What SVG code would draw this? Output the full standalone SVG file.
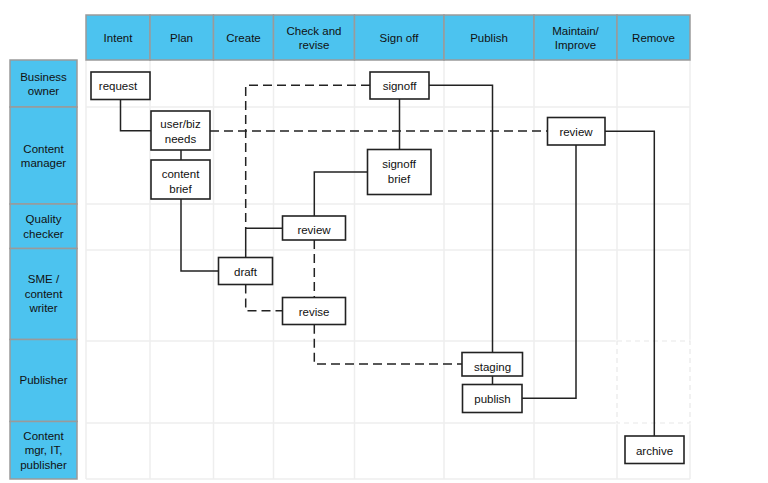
<svg xmlns="http://www.w3.org/2000/svg" width="768" height="483" viewBox="0 0 768 483">
<style>
  text { font-family: "Liberation Sans", Arial, sans-serif; font-size: 11.5px; fill: #111; text-anchor: middle; dominant-baseline: central; }
  .hdr { fill: #4cc3ef; stroke: #9a9a9a; stroke-width: 1.5; }
  .grid { stroke: #eeeeee; stroke-width: 1.5; fill: none; }
  .node rect { fill: #fff; stroke: #222; stroke-width: 1.6; }
  .conn path { fill: none; stroke: #222; stroke-width: 1.5; }
  .conn path.d { stroke-dasharray: 9 5; }
</style>
<rect width="768" height="483" fill="#fff"/>

<!-- body grid -->
<g id="grid">
  <path class="grid" d="M86,60 V479 M150,60 V479 M213.5,60 V479 M273.5,60 V479 M354.5,60 V479 M444,60 V479 M534,60 V479 M617,60 V479 M690,60 V479"/>
  <path class="grid" d="M86,107 H690 M86,204 H690 M86,250 H690 M86,341 H690 M86,423 H690 M86,479 H690"/>
  <rect x="617" y="341" width="73" height="82" fill="#fff" stroke="#fff" stroke-width="2.5"/>
  <rect x="617" y="341" width="73" height="82" fill="none" stroke="#e8e8e8" stroke-width="1.2" stroke-dasharray="5 4"/>
</g>

<!-- header row -->
<g id="header">
  <rect class="hdr" x="86" y="15" width="64" height="45"/>
  <rect class="hdr" x="150" y="15" width="63.5" height="45"/>
  <rect class="hdr" x="213.5" y="15" width="60" height="45"/>
  <rect class="hdr" x="273.5" y="15" width="81" height="45"/>
  <rect class="hdr" x="354.5" y="15" width="89.5" height="45"/>
  <rect class="hdr" x="444" y="15" width="90" height="45"/>
  <rect class="hdr" x="534" y="15" width="83" height="45"/>
  <rect class="hdr" x="617" y="15" width="73" height="45"/>
  <text x="118" y="38">Intent</text>
  <text x="181.5" y="38">Plan</text>
  <text x="243.5" y="38">Create</text>
  <text x="314" y="31">Check and</text>
  <text x="314" y="45">revise</text>
  <text x="399" y="38">Sign off</text>
  <text x="489" y="38">Publish</text>
  <text x="575.5" y="31">Maintain/</text>
  <text x="575.5" y="45">Improve</text>
  <text x="653.5" y="38">Remove</text>
</g>

<!-- left lane labels -->
<g id="lanes">
  <rect class="hdr" x="10" y="60" width="67" height="47"/>
  <rect class="hdr" x="10" y="107" width="67" height="97"/>
  <rect class="hdr" x="10" y="204" width="67" height="44.5"/>
  <rect class="hdr" x="10" y="248.5" width="67" height="91"/>
  <rect class="hdr" x="10" y="339.5" width="67" height="82"/>
  <rect class="hdr" x="10" y="421.5" width="67" height="57.5"/>
  <text x="43.5" y="76.5">Business</text>
  <text x="43.5" y="91">owner</text>
  <text x="43.5" y="148.5">Content</text>
  <text x="43.5" y="163">manager</text>
  <text x="43.5" y="219">Quality</text>
  <text x="43.5" y="233.5">checker</text>
  <text x="43.5" y="279">SME /</text>
  <text x="43.5" y="293.5">content</text>
  <text x="43.5" y="308">writer</text>
  <text x="43.5" y="380">Publisher</text>
  <text x="43.5" y="435.5">Content</text>
  <text x="43.5" y="450">mgr, IT,</text>
  <text x="43.5" y="464.5">publisher</text>
</g>

<!-- connectors -->
<g id="connectors" class="conn">
  <path d="M120.5,99 V130.7 H151"/>
  <path d="M181,150 V160"/>
  <path d="M181,199 V271 H218"/>
  <path d="M245.7,257 V228.3 H282"/>
  <path d="M314.3,216 V172 H367"/>
  <path d="M399.5,99 V149"/>
  <path d="M429,85.3 H492.5 V352"/>
  <path d="M492.5,376 V384"/>
  <path d="M522,398.3 H576 V145"/>
  <path d="M605,131.3 H654.3 V436"/>
  <path class="d" d="M210,131 H547"/>
  <path class="d" d="M370,85.3 H245.7 V228.3"/>
  <path class="d" d="M314.3,240 V297"/>
  <path class="d" d="M245.7,284.5 V310.7 H282"/>
  <path class="d" d="M314.3,324.7 V364 H462"/>
</g>

<!-- nodes -->
<g id="n-request" class="node"><rect x="91" y="72" width="59" height="27.5"/><text x="118" y="86">request</text></g>
<g id="n-userbiz" class="node"><rect x="151" y="111" width="59" height="39"/><text x="180.5" y="124">user/biz</text><text x="180.5" y="139">needs</text></g>
<g id="n-brief" class="node"><rect x="151" y="160" width="59" height="39"/><text x="180.5" y="174">content</text><text x="180.5" y="189">brief</text></g>
<g id="n-draft" class="node"><rect x="218.5" y="257.5" width="54" height="27"/><text x="245.5" y="271.5">draft</text></g>
<g id="n-review1" class="node"><rect x="282.5" y="216" width="63" height="24"/><text x="314" y="230">review</text></g>
<g id="n-revise" class="node"><rect x="282.5" y="297.5" width="63" height="27"/><text x="314" y="312">revise</text></g>
<g id="n-signoff" class="node"><rect x="370" y="72" width="59" height="27"/><text x="399.5" y="86">signoff</text></g>
<g id="n-signoffbrief" class="node"><rect x="367.5" y="149.5" width="63.5" height="45"/><text x="399" y="164">signoff</text><text x="399" y="179">brief</text></g>
<g id="n-review2" class="node"><rect x="547.5" y="117.5" width="57.5" height="27.5"/><text x="576" y="132">review</text></g>
<g id="n-staging" class="node"><rect x="462" y="352.5" width="60.5" height="23.5"/><text x="492.5" y="367">staging</text></g>
<g id="n-publish" class="node"><rect x="462.5" y="384.5" width="59.5" height="28"/><text x="492.5" y="399">publish</text></g>
<g id="n-archive" class="node"><rect x="625" y="436" width="59" height="27.5"/><text x="654.5" y="451">archive</text></g>
</svg>
